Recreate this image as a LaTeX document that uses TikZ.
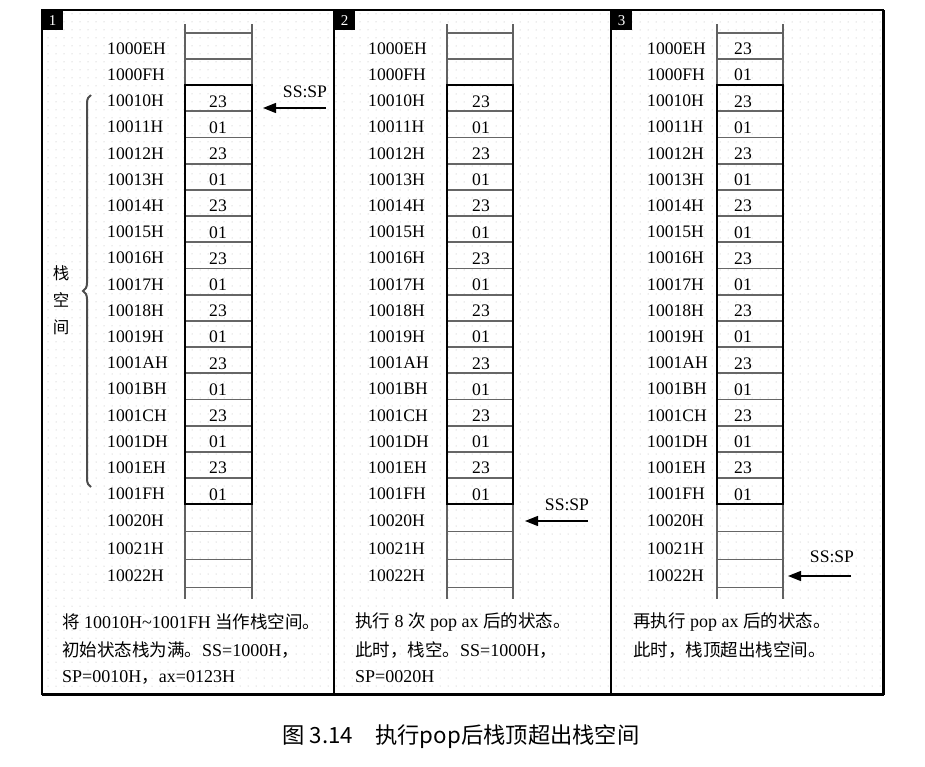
\documentclass[tikz,border=0pt]{standalone}
\usepackage{fontspec}
\setmainfont{Liberation Serif}
\newfontfamily\cjk{Noto Sans CJK SC}
\usetikzlibrary{arrows.meta,decorations.pathreplacing,patterns.meta}
\newcommand\zh[1]{{\cjk\fontsize{17.5}{20}\selectfont #1}}
\tikzset{
  addr/.style={anchor=west, inner sep=0pt, font=\fontsize{17.6}{20}\selectfont},
  val/.style={inner sep=0pt, font=\fontsize{17.6}{20}\selectfont},
  rung/.style={draw=black!60, line width=1.8pt},
  rail/.style={draw=black!62, line width=1.8pt},
  fullbox/.style={draw=black, line width=1.8pt},
  numbox/.style={fill=black, text=white, inner sep=0pt, minimum width=21, minimum height=20, anchor=north west, font=\fontsize{15}{15}\selectfont},
  sslabel/.style={inner sep=0pt, font=\fontsize{17.6}{20}\selectfont},
  sparrow/.style={-{Triangle[length=13pt,width=10pt]}, line width=1.3pt},
  capt/.style={anchor=west, inner sep=0pt, font=\fontsize{18}{20}\selectfont},
  frame/.style={draw=black, line width=1.4pt},
}
\begin{document}
\begin{tikzpicture}[x=1pt,y=-1pt]
\useasboundingbox (0,0) rectangle (925,766);
% dotted background
\fill[pattern={Dots[distance=8pt, radius=0.5pt]}, pattern color=black!30] (42,10) rectangle (883,694);
% frames
\draw[frame] (42,10) rectangle (883,694);
\draw[frame] (334,10) -- (334,694);
\draw[frame] (611,10) -- (611,694);
\draw[black, line width=2.4pt] (42,694.5) -- (884,694.5);
\draw[black, line width=2.4pt] (883.5,10) -- (883.5,695);
% panel numbers
\node[numbox] (n1) at (42,10) {1};
\node[numbox] (n2) at (334,10) {2};
\node[numbox] (n3) at (611,10) {3};
% stacks
\foreach \p/\lx/\rl/\rr/\vx/\first in {1/107/185/252/218/2, 2/368/447/513/481/2, 3/647/717/783/743/0}{
  \foreach \k in {0,...,18}{
    \pgfmathsetmacro\yy{32.7+26.2*\k}
    \draw[rung] (\rl,\yy) -- (\rr,\yy);
  }
  \foreach \yy in {531.5,559.5,587.5}{
    \draw[rung] (\rl,\yy) -- (\rr,\yy);
  }
  \draw[rail] (\rl,24) -- (\rl,599);
  \draw[rail] (\rr,24) -- (\rr,599);
  \draw[fullbox] (\rl,85.1) rectangle (\rr,504.3);
  \foreach \lab [count=\i from 0] in {1000EH,1000FH,10010H,10011H,10012H,10013H,10014H,10015H,10016H,10017H,10018H,10019H,1001AH,1001BH,1001CH,1001DH,1001EH,1001FH,10020H,10021H,10022H}{
    \pgfmathsetmacro\yc{\i<18 ? 48.5+26.2*\i : (\i==18 ? 521 : (\i==19 ? 548.5 : 576))}
    \node[addr] (p\p l\i) at (\lx,\yc) {\lab};
  }
  \foreach \i in {\first,...,17}{
    \pgfmathsetmacro\yc{49+26.2*\i}
    \node[val] (p\p v\i) at (\vx,\yc) {\ifodd\i\relax 01\else 23\fi};
  }
}
% brace
\draw[decorate, decoration={brace, amplitude=8pt}, draw=black!70, line width=2pt] (91,487) -- (91,95);
\node[val, font=\cjk\fontsize{16.5}{16}\selectfont] (b1) at (61,273) {栈};
\node[val, font=\cjk\fontsize{16.5}{16}\selectfont] (b2) at (61,300) {空};
\node[val, font=\cjk\fontsize{16.5}{16}\selectfont] (b3) at (61,327) {间};
% SS:SP arrows
\node[sslabel] (s1) at (305,92) {SS:SP};
\coordinate (s1a) at (326,108);
\coordinate (s1b) at (263,108);
\draw[sparrow] (s1a) -- (s1b);
\node[sslabel] (s2) at (567,505) {SS:SP};
\coordinate (s2a) at (588,521);
\coordinate (s2b) at (525,521);
\draw[sparrow] (s2a) -- (s2b);
\node[sslabel] (s3) at (832,557) {SS:SP};
\coordinate (s3a) at (851,576);
\coordinate (s3b) at (788,576);
\draw[sparrow] (s3a) -- (s3b);
% captions
\node[capt] (c11) at (62,622) {\zh{将} 10010H\textasciitilde1001FH \zh{当作栈空间。}};
\node[capt] (c12) at (62,650) {\zh{初始状态栈为满。}SS=1000H\zh{，}};
\node[capt] (c13) at (62,677) {SP=0010H\zh{，}ax=0123H};
\node[capt] (c21) at (355,622) {\zh{执行} 8 \zh{次} pop ax \zh{后的状态。}};
\node[capt] (c22) at (355,650) {\zh{此时，栈空。}SS=1000H\zh{，}};
\node[capt] (c23) at (355,677) {SP=0020H};
\node[capt] (c31) at (633,622) {\zh{再执行} pop ax \zh{后的状态。}};
\node[capt] (c32) at (633,650) {\zh{此时，栈顶超出栈空间。}};
% figure caption
\node[inner sep=0pt, font=\cjk\fontsize{22.3}{24}\selectfont] (fig) at (461,737) {图 3.14\hspace{1em}执行pop后栈顶超出栈空间};
\end{tikzpicture}
\end{document}
